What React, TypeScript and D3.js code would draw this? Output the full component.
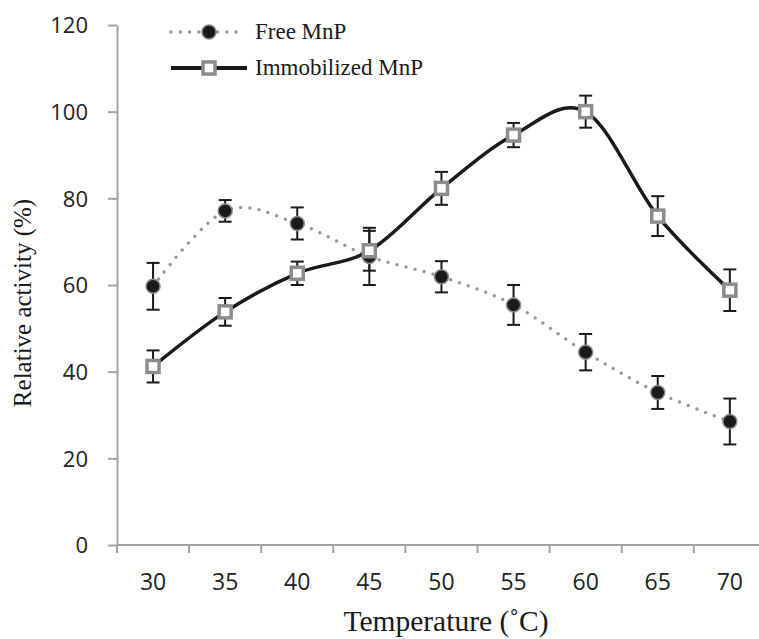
import React, { useEffect, useRef } from 'react';
import * as d3 from 'd3';

const temps = [30, 35, 40, 45, 50, 55, 60, 65, 70];
const freeMnP = [59.7, 77.1, 74.2, 66.6, 61.9, 55.4, 44.5, 35.2, 28.5];
const freeErr = [5.4, 2.5, 3.7, 6.6, 3.6, 4.6, 4.2, 3.8, 5.3];
const immobMnP = [41.2, 53.8, 62.7, 67.9, 82.3, 94.6, 100, 75.9, 58.8];
const immobErr = [3.7, 3.2, 2.7, 4.6, 3.8, 2.8, 3.7, 4.6, 4.8];
const yTicks = [0, 20, 40, 60, 80, 100, 120];

const W = 759;
const H = 639;
const serif = '"Liberation Serif", Times, serif';

const App: React.FC = () => {
  const svgRef = useRef<SVGSVGElement>(null);

  useEffect(() => {
    if (!svgRef.current) return;
    const svg = d3.select(svgRef.current);
    svg.selectAll('*').remove();

    const left = 117;
    const top = 25;
    const bottom = 545;
    const band = 72.1;

    const x = d3.scaleBand<number>()
      .domain(temps)
      .range([left, left + band * temps.length])
      .padding(0);
    const cx = (t: number) => (x(t) as number) + x.bandwidth() / 2;
    const y = d3.scaleLinear().domain([0, 120]).range([bottom, top]);

    const axisColor = '#a3a3a3';

    // y axis
    const yAxis = svg.append('g')
      .attr('transform', `translate(${left},0)`)
      .call(d3.axisLeft(y).tickValues(yTicks).tickSize(9).tickPadding(20).tickSizeOuter(0));
    yAxis.select('.domain').attr('stroke', axisColor).attr('stroke-width', 2);
    yAxis.selectAll('.tick line').attr('stroke', axisColor).attr('stroke-width', 2);
    yAxis.selectAll('.tick text')
      .attr('fill', '#222')
      .attr('font-family', '"Open Sans", sans-serif')
      .attr('font-size', 22)
      .attr('dy', '0.36em');

    // x axis line + boundary ticks
    svg.append('line')
      .attr('x1', left).attr('x2', W)
      .attr('y1', bottom).attr('y2', bottom)
      .attr('stroke', axisColor).attr('stroke-width', 2);
    const bounds = temps.map(t => x(t) as number);
    svg.append('g').selectAll('line')
      .data(bounds)
      .join('line')
      .attr('x1', d => d).attr('x2', d => d)
      .attr('y1', bottom).attr('y2', bottom + 8)
      .attr('stroke', axisColor).attr('stroke-width', 2);
    svg.append('g').selectAll('text')
      .data(temps)
      .join('text')
      .attr('x', d => cx(d))
      .attr('y', 590)
      .attr('text-anchor', 'middle')
      .attr('fill', '#222')
      .attr('font-family', '"Open Sans", sans-serif')
      .attr('font-size', 23)
      .text(d => d);

    // titles
    svg.append('text')
      .attr('x', 446).attr('y', 631)
      .attr('text-anchor', 'middle')
      .attr('font-family', serif)
      .attr('font-size', 29.5)
      .attr('fill', '#1a1a1a')
      .text('Temperature (˚C)');
    svg.append('text')
      .attr('transform', 'translate(31,303) rotate(-90)')
      .attr('text-anchor', 'middle')
      .attr('font-family', serif)
      .attr('font-size', 25)
      .attr('fill', '#1a1a1a')
      .text('Relative activity (%)');

    const line = d3.line<number>()
      .x((_, i) => cx(temps[i]))
      .y(d => y(d))
      .curve(d3.curveCatmullRom.alpha(0));

    // series lines
    svg.append('path')
      .attr('d', line(freeMnP))
      .attr('fill', 'none')
      .attr('stroke', '#999')
      .attr('stroke-width', 3.5)
      .attr('stroke-linecap', 'round')
      .attr('stroke-dasharray', '0 9.3');
    svg.append('path')
      .attr('d', line(immobMnP))
      .attr('fill', 'none')
      .attr('stroke', '#1a1a1a')
      .attr('stroke-width', 3.5);

    // error bars
    const drawErr = (vals: number[], errs: number[]) => {
      const g = svg.append('g').attr('stroke', '#1a1a1a').attr('stroke-width', 2);
      vals.forEach((v, i) => {
        const px = cx(temps[i]);
        const y1 = y(v + errs[i]);
        const y2 = y(v - errs[i]);
        g.append('line').attr('x1', px).attr('x2', px).attr('y1', y1).attr('y2', y2);
        g.append('line').attr('x1', px - 6.5).attr('x2', px + 6.5).attr('y1', y1).attr('y2', y1);
        g.append('line').attr('x1', px - 6.5).attr('x2', px + 6.5).attr('y1', y2).attr('y2', y2);
      });
    };
    drawErr(freeMnP, freeErr);
    drawErr(immobMnP, immobErr);

    // markers
    svg.append('g').selectAll('circle')
      .data(freeMnP)
      .join('circle')
      .attr('cx', (_, i) => cx(temps[i]))
      .attr('cy', d => y(d))
      .attr('r', 7)
      .attr('fill', '#1a1a1a')
      .attr('stroke', '#8a8a8a')
      .attr('stroke-width', 1.5);
    svg.append('g').selectAll('rect')
      .data(immobMnP)
      .join('rect')
      .attr('x', (_, i) => cx(temps[i]) - 6)
      .attr('y', d => y(d) - 6)
      .attr('width', 12)
      .attr('height', 12)
      .attr('fill', '#fff')
      .attr('stroke', '#8c8c8c')
      .attr('stroke-width', 3.5);

    // legend
    const lg = svg.append('g');
    lg.append('line')
      .attr('x1', 171).attr('x2', 241).attr('y1', 32).attr('y2', 32)
      .attr('stroke', '#999').attr('stroke-width', 3.5)
      .attr('stroke-linecap', 'round').attr('stroke-dasharray', '0 9.3');
    lg.append('circle')
      .attr('cx', 209).attr('cy', 32).attr('r', 7)
      .attr('fill', '#1a1a1a').attr('stroke', '#8a8a8a').attr('stroke-width', 1.5);
    lg.append('line')
      .attr('x1', 171).attr('x2', 247).attr('y1', 68).attr('y2', 68)
      .attr('stroke', '#1a1a1a').attr('stroke-width', 4);
    lg.append('rect')
      .attr('x', 203).attr('y', 62).attr('width', 12).attr('height', 12)
      .attr('fill', '#fff').attr('stroke', '#8c8c8c').attr('stroke-width', 3.5);
    const legendText = [
      { label: 'Free MnP', yy: 39 },
      { label: 'Immobilized MnP', yy: 75 },
    ];
    lg.selectAll('text')
      .data(legendText)
      .join('text')
      .attr('x', 255)
      .attr('y', d => d.yy)
      .attr('font-family', serif)
      .attr('font-size', 23)
      .attr('fill', '#1a1a1a')
      .text(d => d.label);
  }, []);

  return (
    <svg
      ref={svgRef}
      width={W}
      height={H}
      style={{ position: 'absolute', left: 0, top: 0, background: '#fff' }}
    />
  );
};

export default App;
